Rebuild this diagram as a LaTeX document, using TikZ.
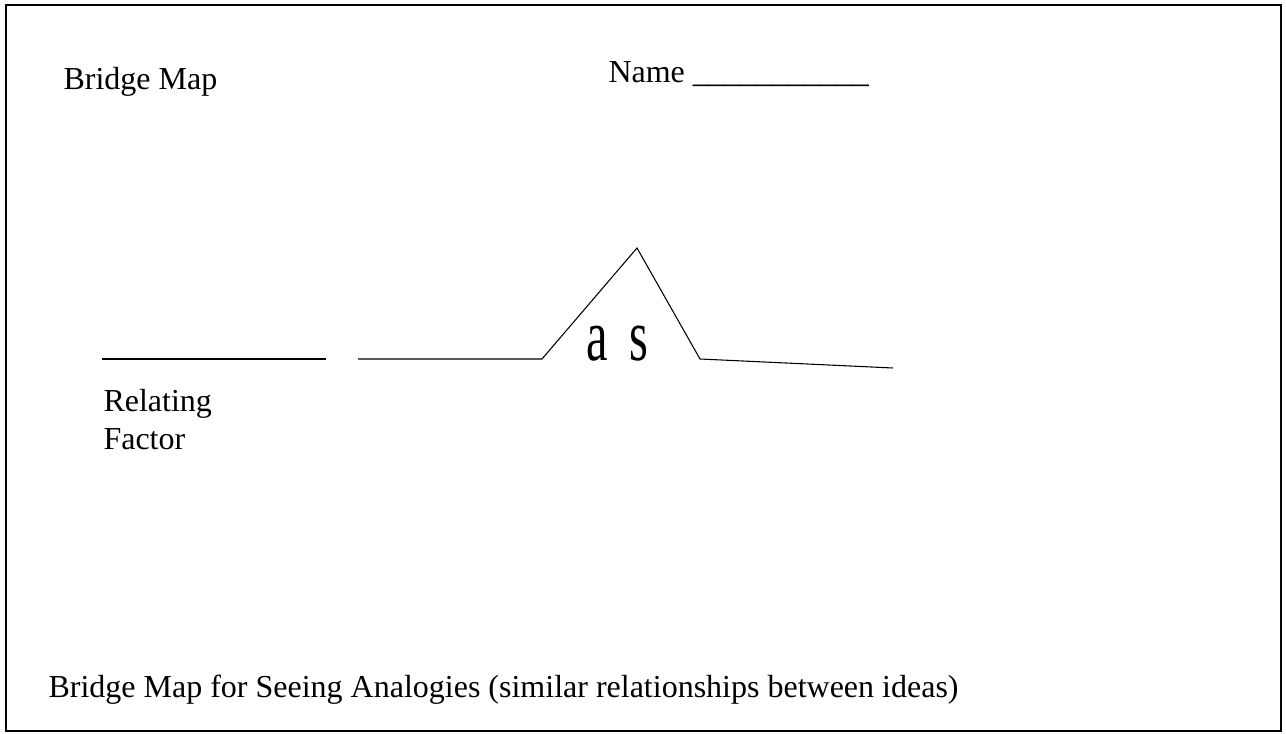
\documentclass[tikz,border=0pt]{standalone}
\usepackage{fontspec}
\setmainfont{Liberation Serif}
\usepackage{graphicx}

\begin{document}
\begin{tikzpicture}[x=0.375pt,y=-0.375pt,font=\fontsize{12pt}{14pt}\selectfont,
  lbl/.style={anchor=base west,inner sep=0pt}]
\useasboundingbox (0,0) rectangle (1286,734);
\draw[line width=1.1pt] (6,5) rectangle (1281,731);
\node[lbl] (title) at (63,90) {Bridge Map};
\node[lbl] (name) at (608,83) {Name \_\_\_\_\_\_\_\_\_\_\_};
\coordinate (l1a) at (102,359);
\coordinate (l1b) at (326,359);
\coordinate (l2a) at (358,359);
\coordinate (bl) at (542,359);
\coordinate (apex) at (637,248);
\coordinate (br) at (700,359);
\coordinate (rend) at (893,368);
\draw[line width=0.4pt] (l1a) -- (l1b);
\draw[line width=0.4pt, line join=miter] (l2a) -- (bl) -- (apex) -- (br) -- (rend);
\node[lbl] (as) at (586,361) {\scalebox{0.66}[1]{\fontsize{27.5pt}{30pt}\selectfont a\hspace{0.45em}s}};
\node[lbl] (rel) at (103,412) {Relating};
\node[lbl] (fac) at (103,450) {Factor};
\node[lbl] (foot) at (48,697) {Bridge Map for Seeing Analogies (similar relationships between ideas)};
\end{tikzpicture}
\end{document}
